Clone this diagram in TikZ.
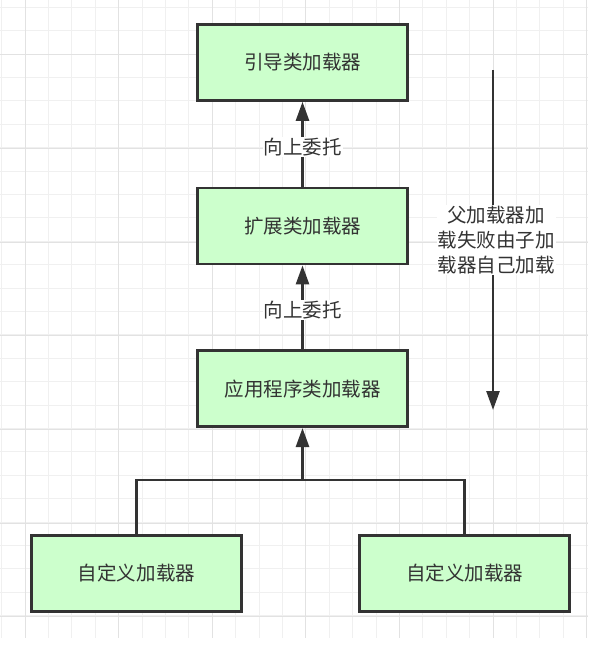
\documentclass[tikz,border=0pt]{standalone}
\usepackage{fontspec}
\newfontfamily\cjk{Noto Sans CJK SC}
\usepackage{tikz}
\usetikzlibrary{arrows.meta, positioning}
\definecolor{boxgreen}{RGB}{204,255,204}
\definecolor{inkgray}{RGB}{51,51,51}
\definecolor{gridminor}{RGB}{240,240,240}
\definecolor{gridmajor}{RGB}{226,226,226}
\tikzset{
    loader/.style={
        rectangle,
        draw=inkgray,
        line width=2.6bp,
        minimum width=210bp,
        minimum height=76bp,
        fill=boxgreen,
        text=inkgray,
        font=\cjk\fontsize{19.5bp}{25bp}\selectfont
    },
    wire/.style={
        draw=inkgray,
        line width=2.6bp,
        -{Triangle[length=19bp, width=13bp]}
    },
    link/.style={
        draw=inkgray,
        line width=2.6bp
    },
    tag/.style={
        fill=white,
        text=inkgray,
        inner sep=1bp,
        font=\cjk\fontsize{19.5bp}{25bp}\selectfont
    },
    minorline/.style={
        draw=gridminor,
        line width=1bp
    },
    majorline/.style={
        draw=gridmajor,
        line width=1bp
    }
}

\begin{document}
\begin{tikzpicture}[x=1bp, y=-1bp, node distance=85bp]
\useasboundingbox (0,0) rectangle (597,662);

% background grid
\foreach \gx in {0,...,25} {
    \draw[minorline] ({1.6+23.4*\gx},0) -- ({1.6+23.4*\gx},638);
}
\foreach \gy in {0,...,26} {
    \draw[minorline] (0,{7.3+23.4*\gy}) -- (588,{7.3+23.4*\gy});
}
\foreach \gx in {25,118.6,...,590} {
    \draw[majorline] (\gx,0) -- (\gx,638);
}
\foreach \gy in {55,148.6,...,638} {
    \draw[majorline] (0,\gy) -- (588,\gy);
}

\node[loader] (boot) at (302.5,62.5) {引导类加载器};
\node[loader, below=of boot] (ext) {扩展类加载器};
\node[loader, below=84bp of ext] (app) {应用程序类加载器};

\draw[wire] (ext) -- node[tag, yshift=-3bp] {向上委托} (boot);
\draw[wire] (app) -- node[tag, yshift=-3bp] {向上委托} (ext);

\node[loader, below=106bp of app, xshift=-166bp] (cust1) {自定义加载器};
\node[loader, below=106bp of app, xshift=162bp] (cust2) {自定义加载器};

\coordinate[below=52bp of app] (join);
\draw[link] (cust1.north) |- (join);
\draw[link] (cust2.north) |- (join);
\draw[wire] (join) -- (app);

% fallback back down
\coordinate (ftop) at (493,70);
\coordinate (fbot) at (493,410);
\draw[wire] (ftop) -- node[tag, align=center, xshift=3bp] {父加载器加\\载失败由子加\\载器自己加载} (fbot);

\end{tikzpicture}
\end{document}
